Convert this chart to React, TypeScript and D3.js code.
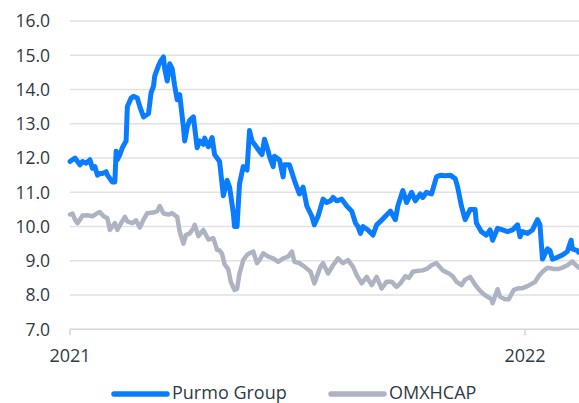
import React from "react";
import * as d3 from "d3";

const purmoDates = [
  "2021-01-01","2021-01-03","2021-01-05","2021-01-07","2021-01-09","2021-01-11","2021-01-14","2021-01-17","2021-01-19","2021-01-21",
  "2021-01-23","2021-01-25","2021-01-27","2021-01-30","2021-01-31","2021-02-02","2021-02-04","2021-02-06","2021-02-07","2021-02-08",
  "2021-02-10","2021-02-12","2021-02-15","2021-02-16","2021-02-19","2021-02-21","2021-02-24","2021-02-26","2021-03-01","2021-03-03",
  "2021-03-05","2021-03-07","2021-03-09","2021-03-10","2021-03-13","2021-03-15","2021-03-17","2021-03-18","2021-03-20","2021-03-22",
  "2021-03-24","2021-03-26","2021-03-28","2021-03-30","2021-04-02","2021-04-03","2021-04-05","2021-04-07","2021-04-10","2021-04-13",
  "2021-04-15","2021-04-18","2021-04-19","2021-04-22","2021-04-25","2021-04-27","2021-04-30","2021-05-01","2021-05-04","2021-05-07",
  "2021-05-09","2021-05-12","2021-05-13","2021-05-15","2021-05-17","2021-05-20","2021-05-23","2021-05-25","2021-05-27","2021-05-30",
  "2021-06-02","2021-06-04","2021-06-06","2021-06-09","2021-06-10","2021-06-13","2021-06-14","2021-06-18","2021-06-21","2021-06-22",
  "2021-06-26","2021-06-30","2021-07-04","2021-07-07","2021-07-10","2021-07-14","2021-07-16","2021-07-19","2021-07-23","2021-07-26",
  "2021-07-29","2021-07-31","2021-08-03","2021-08-07","2021-08-11","2021-08-15","2021-08-18","2021-08-20","2021-08-22","2021-08-24",
  "2021-08-28","2021-09-01","2021-09-04","2021-09-07","2021-09-11","2021-09-15","2021-09-19","2021-09-21","2021-09-25","2021-09-28",
  "2021-10-02","2021-10-05","2021-10-09","2021-10-11","2021-10-14","2021-10-18","2021-10-22","2021-10-25","2021-10-29","2021-11-02",
  "2021-11-06","2021-11-08","2021-11-11","2021-11-14","2021-11-18","2021-11-22","2021-11-23","2021-11-27","2021-12-01","2021-12-04",
  "2021-12-06","2021-12-10","2021-12-14","2021-12-18","2021-12-22","2021-12-26","2021-12-28","2021-12-30","2022-01-03","2022-01-07",
  "2022-01-11","2022-01-13","2022-01-15","2022-01-19","2022-01-21","2022-01-23","2022-01-27","2022-01-31","2022-02-04","2022-02-07",
  "2022-02-08","2022-02-12","2022-02-13",
];
const purmoValues = [
  11.9,11.95,12.0,11.9,11.8,11.9,11.85,11.95,11.7,11.75,
  11.5,11.55,11.55,11.6,11.5,11.4,11.3,11.3,12.2,11.95,
  12.1,12.3,12.5,13.5,13.75,13.8,13.75,13.5,13.2,13.25,
  13.3,13.9,14.1,14.4,14.7,14.85,14.95,14.6,14.25,14.75,
  14.6,14.1,13.7,13.85,12.9,12.5,12.9,13.1,13.2,12.3,
  12.5,12.4,12.58,12.33,12.6,12.1,11.95,11.9,10.9,11.35,
  11.15,10.4,10.0,10.0,11.25,11.75,11.65,12.8,12.5,12.35,
  12.2,12.1,12.55,12.2,12.05,11.75,12.05,11.95,11.45,11.8,
  11.8,11.35,10.95,11.15,10.6,10.3,10.05,10.3,10.8,10.7,
  10.75,10.85,10.75,10.8,10.6,10.45,10.1,10.0,9.8,10.0,
  9.9,9.75,10.05,10.15,10.3,10.45,10.2,10.6,11.05,10.7,
  11.0,10.75,10.95,10.85,11.0,10.95,11.45,11.5,11.48,11.5,
  11.4,11.15,10.6,10.2,10.5,10.5,10.1,9.85,9.75,9.9,
  9.6,9.95,9.9,9.85,9.9,10.05,9.7,9.85,9.8,9.9,
  10.2,10.05,9.05,9.35,9.3,9.05,9.1,9.17,9.27,9.6,
  9.35,9.3,9.25,
];

const omxDates = [
  "2021-01-01","2021-01-03","2021-01-05","2021-01-07","2021-01-09","2021-01-11","2021-01-15","2021-01-19","2021-01-23","2021-01-25",
  "2021-01-28","2021-01-31","2021-02-02","2021-02-04","2021-02-06","2021-02-08","2021-02-11","2021-02-14","2021-02-16","2021-02-20",
  "2021-02-23","2021-02-26","2021-03-01","2021-03-04","2021-03-09","2021-03-12","2021-03-14","2021-03-17","2021-03-21","2021-03-24",
  "2021-03-28","2021-03-30","2021-04-02","2021-04-04","2021-04-07","2021-04-10","2021-04-11","2021-04-14","2021-04-18","2021-04-22",
  "2021-04-26","2021-04-29","2021-05-01","2021-05-03","2021-05-05","2021-05-08","2021-05-10","2021-05-12","2021-05-13","2021-05-15",
  "2021-05-17","2021-05-20","2021-05-23","2021-05-25","2021-05-28","2021-05-31","2021-06-02","2021-06-05","2021-06-09","2021-06-13",
  "2021-06-17","2021-06-21","2021-06-25","2021-06-28","2021-06-30","2021-07-04","2021-07-08","2021-07-13","2021-07-16","2021-07-21",
  "2021-07-23","2021-07-27","2021-07-31","2021-08-04","2021-08-08","2021-08-12","2021-08-16","2021-08-19","2021-08-23","2021-08-27",
  "2021-08-31","2021-09-04","2021-09-08","2021-09-12","2021-09-16","2021-09-20","2021-09-23","2021-09-27","2021-09-30","2021-10-03",
  "2021-10-06","2021-10-11","2021-10-15","2021-10-18","2021-10-22","2021-10-27","2021-11-01","2021-11-04","2021-11-07","2021-11-11",
  "2021-11-14","2021-11-18","2021-11-22","2021-11-26","2021-11-29","2021-12-02","2021-12-05","2021-12-06","2021-12-10","2021-12-12",
  "2021-12-16","2021-12-19","2021-12-23","2021-12-27","2021-12-30","2022-01-03","2022-01-09","2022-01-12","2022-01-15","2022-01-19",
  "2022-01-24","2022-01-28","2022-01-31","2022-02-04","2022-02-08","2022-02-10","2022-02-13",
];
const omxValues = [
  10.35,10.38,10.2,10.1,10.2,10.32,10.33,10.3,10.39,10.42,
  10.3,10.24,9.9,10.0,10.1,9.9,10.1,10.28,10.15,10.1,
  10.18,9.97,10.2,10.39,10.41,10.45,10.6,10.38,10.35,10.39,
  10.28,9.85,9.5,9.75,9.8,9.95,10.05,9.72,9.9,9.62,
  9.66,9.32,9.3,9.2,8.9,8.75,8.38,8.22,8.15,8.18,
  8.63,9.02,9.17,9.22,9.27,8.93,9.02,9.22,9.12,9.07,
  8.97,9.07,9.12,9.27,8.97,8.93,8.83,8.68,8.34,8.83,
  8.93,8.63,8.87,9.07,8.93,9.02,8.83,8.58,8.34,8.53,
  8.29,8.53,8.19,8.39,8.39,8.24,8.34,8.55,8.5,8.68,
  8.7,8.72,8.78,8.87,8.93,8.72,8.63,8.55,8.39,8.29,
  8.45,8.53,8.3,8.12,8.02,7.95,7.88,7.76,8.17,7.95,
  7.88,7.88,8.15,8.2,8.2,8.26,8.38,8.55,8.68,8.8,
  8.76,8.76,8.8,8.87,8.98,8.9,8.8,
];

const yTicks = [7, 8, 9, 10, 11, 12, 13, 14, 15, 16];
const xTickDates = ["2021-01-01", "2022-01-01"];
const xTickLabels = ["2021", "2022"];
const seriesNames = ["Purmo Group", "OMXHCAP"];
const seriesColors = ["#0a7cff", "#aeb3c3"];

const W = 579;
const H = 403;
const FONT = "'Open Sans', 'DejaVu Sans', sans-serif";
const TEXT = "#2f3a45";

export default function App() {
  const parse = d3.timeParse("%Y-%m-%d");
  const x = d3
    .scaleTime()
    .domain([parse("2021-01-01")!, parse("2022-01-01")!])
    .range([70, 525]);
  const y = d3.scaleLinear().domain([7, 16]).range([329.3, 21]);

  const purmo = purmoDates.map((d, i) => ({ date: parse(d)!, value: purmoValues[i] }));
  const omx = omxDates.map((d, i) => ({ date: parse(d)!, value: omxValues[i] }));

  const line = d3
    .line<{ date: Date; value: number }>()
    .x((d) => x(d.date))
    .y((d) => y(d.value));

  const left = x(parse("2021-01-01")!);

  return (
    <svg
      width={W}
      height={H}
      style={{ position: "absolute", left: 0, top: 0, background: "#fff" }}
      fontFamily={FONT}
    >
      {yTicks.map((t) => (
        <g key={t}>
          <line
            x1={left}
            x2={W}
            y1={y(t)}
            y2={y(t)}
            stroke={t === 7 ? "#d3d5dc" : "#e0e1e6"}
            strokeWidth={1.5}
          />
          <text
            x={50}
            y={y(t)}
            dy="0.36em"
            textAnchor="end"
            fontSize={17.5}
            fill={TEXT}
          >
            {d3.format(".1f")(t)}
          </text>
        </g>
      ))}
      {xTickDates.map((d, i) => {
        const xx = x(parse(d)!);
        return (
          <g key={d}>
            <line x1={xx} x2={xx} y1={y(7)} y2={y(7) + 6} stroke="#d3d5dc" strokeWidth={1.5} />
            <text x={xx} y={362} textAnchor="middle" fontSize={18} fill={TEXT}>
              {xTickLabels[i]}
            </text>
          </g>
        );
      })}
      <path
        d={line(omx) || ""}
        fill="none"
        stroke={seriesColors[1]}
        strokeWidth={4.5}
        strokeLinejoin="round"
        strokeLinecap="round"
      />
      <path
        d={line(purmo) || ""}
        fill="none"
        stroke={seriesColors[0]}
        strokeWidth={5}
        strokeLinejoin="round"
        strokeLinecap="round"
      />
      {seriesNames.map((name, i) => {
        const lx = i === 0 ? 114 : 331;
        return (
          <g key={name}>
            <line
              x1={lx}
              x2={lx + 53}
              y1={394}
              y2={394}
              stroke={seriesColors[i]}
              strokeWidth={5.5}
              strokeLinecap="round"
            />
            <text x={lx + 58} y={399} fontSize={18} fill={TEXT}>
              {name}
            </text>
          </g>
        );
      })}
    </svg>
  );
}
